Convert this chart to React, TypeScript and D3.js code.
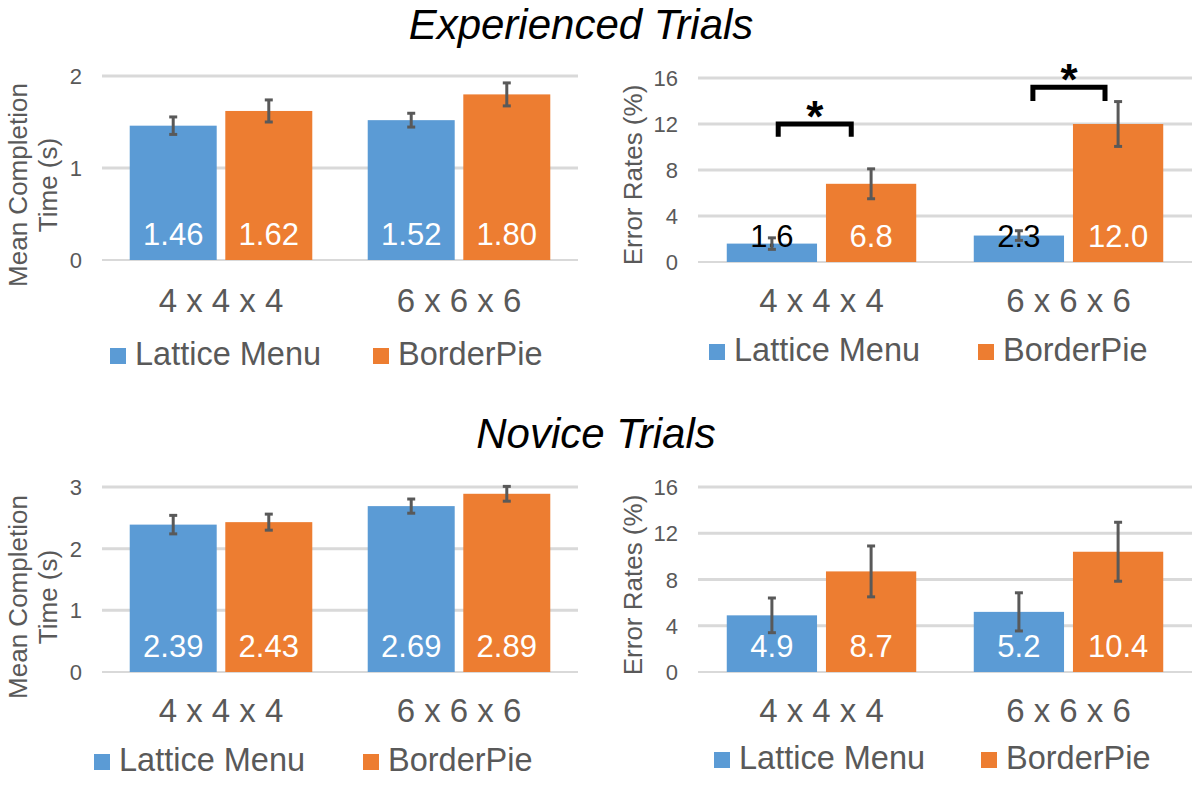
import React from "react";
import * as d3 from "d3";

const categories = ["4 x 4 x 4", "6 x 6 x 6"];
const seriesNames = ["Lattice Menu", "BorderPie"];
const seriesColors = ["#5B9BD5", "#ED7D31"];

// Experienced trials
const expTimeLattice = [1.46, 1.52];
const expTimeBorder = [1.62, 1.8];
const expTimeLatticeErr = [0.095, 0.075];
const expTimeBorderErr = [0.12, 0.125];
const expRateLattice = [1.6, 2.3];
const expRateBorder = [6.8, 12.0];
const expRateLatticeErr = [0.5, 0.42];
const expRateBorderErr = [1.3, 1.95];

// Novice trials
const novTimeLattice = [2.39, 2.69];
const novTimeBorder = [2.43, 2.89];
const novTimeLatticeErr = [0.15, 0.115];
const novTimeBorderErr = [0.13, 0.12];
const novRateLattice = [4.9, 5.2];
const novRateBorder = [8.7, 10.4];
const novRateLatticeErr = [1.5, 1.65];
const novRateBorderErr = [2.2, 2.55];

const expTimeTicks = [0, 1, 2];
const novTimeTicks = [0, 1, 2, 3];
const rateTicks = [0, 4, 8, 12, 16];

const labelDigits = [2, 1];

// significance brackets (experienced error rates)
const sigCategory = ["4 x 4 x 4", "6 x 6 x 6"];
const sigTop = [12.0, 15.2];
const sigLeg = [10.9, 14.0];

const FONT = "'Liberation Sans', Arial, sans-serif";
const TEXT = "#595959";

type PanelProps = {
  left: number;
  right: number;
  top: number;
  bottom: number;
  domain: [number, number];
  ticks: number[];
  values: number[][];
  errors: number[][];
  digits: number;
  yTitle: string[];
  yTitleX: number[];
  yTitleY: number;
  catY: number;
  legendY: number;
  legendX: number[];
  brackets?: boolean;
};

const Panel: React.FC<PanelProps> = (p) => {
  const x0 = d3.scaleBand<string>().domain(categories).range([p.left, p.right]);
  const x1 = d3
    .scaleBand<string>()
    .domain(seriesNames)
    .range([0, x0.bandwidth()])
    .paddingInner(0.09)
    .paddingOuter(0.29);
  const y = d3.scaleLinear().domain(p.domain).range([p.bottom, p.top]);
  const bw = x1.bandwidth();
  const barX = (s: string, c: string) => (x0(c) ?? 0) + (x1(s) ?? 0);

  return (
    <g fontFamily={FONT}>
      {p.ticks.map((t) => (
        <g key={t}>
          <line
            x1={p.left}
            x2={p.right}
            y1={y(t)}
            y2={y(t)}
            stroke="#D9D9D9"
            strokeWidth={t === 0 ? 2 : 3}
          />
          <text x={p.left - 20} y={y(t) + 8} textAnchor="end" fontSize={22} fill={TEXT}>
            {t}
          </text>
        </g>
      ))}
      {p.yTitle.map((line, i) => (
        <text
          key={line}
          transform={`translate(${p.yTitleX[i]},${p.yTitleY}) rotate(-90)`}
          textAnchor="middle"
          dominantBaseline="central"
          fontSize={26}
          fill={TEXT}
        >
          {line}
        </text>
      ))}
      {seriesNames.map((s, si) =>
        categories.map((c, ci) => {
          const v = p.values[si][ci];
          return (
            <rect
              key={s + c}
              x={barX(s, c)}
              y={y(v)}
              width={bw}
              height={y(0) - y(v)}
              fill={seriesColors[si]}
            />
          );
        })
      )}
      {seriesNames.map((s, si) =>
        categories.map((c, ci) => {
          const v = p.values[si][ci];
          const small = y(0) - y(v) < 30;
          return (
            <text
              key={"l" + s + c}
              x={barX(s, c) + bw / 2}
              y={y(0) - 15}
              textAnchor="middle"
              fontSize={31}
              fill={small ? "#000" : "#fff"}
            >
              {v.toFixed(p.digits)}
            </text>
          );
        })
      )}
      {seriesNames.map((s, si) =>
        categories.map((c, ci) => {
          const v = p.values[si][ci];
          const e = p.errors[si][ci];
          const cx = barX(s, c) + bw / 2;
          return (
            <g key={"e" + s + c} stroke="#595959" strokeWidth={3}>
              <line x1={cx} x2={cx} y1={y(v + e)} y2={y(v - e)} />
              <line x1={cx - 4} x2={cx + 4} y1={y(v + e)} y2={y(v + e)} />
              <line x1={cx - 4} x2={cx + 4} y1={y(v - e)} y2={y(v - e)} />
            </g>
          );
        })
      )}
      {p.brackets &&
        sigCategory.map((c, i) => {
          const lx = barX(seriesNames[0], c) + bw / 2 + bw * (i === 0 ? 0.07 : 0.155);
          const rx = barX(seriesNames[1], c) + bw / 2 - bw * (i === 0 ? 0.22 : 0.145);
          return (
            <g key={"b" + c}>
              <path
                d={`M${lx},${y(sigLeg[i])}V${y(sigTop[i])}H${rx}V${y(sigLeg[i])}`}
                fill="none"
                stroke="#000"
                strokeWidth={5}
              />
              <text
                x={(lx + rx) / 2}
                y={y(sigTop[i]) - 17 + 0.57 * 44}
                textAnchor="middle"
                fontSize={44}
                fontWeight="bold"
                fill="#000"
              >
                *
              </text>
            </g>
          );
        })}
      {categories.map((c) => (
        <text
          key={"c" + c}
          x={(x0(c) ?? 0) + x0.bandwidth() / 2}
          y={p.catY}
          textAnchor="middle"
          fontSize={33}
          fill={TEXT}
        >
          {c}
        </text>
      ))}
      {seriesNames.map((s, si) => (
        <g key={"lg" + s}>
          <rect x={p.legendX[si]} y={p.legendY - 17} width={16} height={16} fill={seriesColors[si]} />
          <text x={p.legendX[si] + 25} y={p.legendY} fontSize={32.5} fill={TEXT}>
            {s}
          </text>
        </g>
      ))}
    </g>
  );
};

const App: React.FC = () => {
  return (
    <div style={{ position: "absolute", left: 0, top: 0 }}>
      <svg width={1199} height={790} style={{ display: "block", background: "#fff" }}>
        <text x={581} y={39} textAnchor="middle" fontSize={42} fontStyle="italic" fontFamily={FONT} fill="#000">
          Experienced Trials
        </text>
        <text x={596} y={448} textAnchor="middle" fontSize={42} fontStyle="italic" fontFamily={FONT} fill="#000">
          Novice Trials
        </text>
        <Panel
          left={102}
          right={578}
          top={76}
          bottom={260}
          domain={[0, 2]}
          ticks={expTimeTicks}
          values={[expTimeLattice, expTimeBorder]}
          errors={[expTimeLatticeErr, expTimeBorderErr]}
          digits={labelDigits[0]}
          yTitle={["Mean Completion", "Time (s)"]}
          yTitleX={[18, 48]}
          yTitleY={185}
          catY={312}
          legendY={365}
          legendX={[110, 373]}
        />
        <Panel
          left={698}
          right={1192}
          top={78}
          bottom={262}
          domain={[0, 16]}
          ticks={rateTicks}
          values={[expRateLattice, expRateBorder]}
          errors={[expRateLatticeErr, expRateBorderErr]}
          digits={labelDigits[1]}
          yTitle={["Error Rates (%)"]}
          yTitleX={[633]}
          yTitleY={175}
          catY={312}
          legendY={361}
          legendX={[709, 978]}
          brackets
        />
        <Panel
          left={102}
          right={578}
          top={487}
          bottom={672}
          domain={[0, 3]}
          ticks={novTimeTicks}
          values={[novTimeLattice, novTimeBorder]}
          errors={[novTimeLatticeErr, novTimeBorderErr]}
          digits={labelDigits[0]}
          yTitle={["Mean Completion", "Time (s)"]}
          yTitleX={[18, 48]}
          yTitleY={597}
          catY={722}
          legendY={771}
          legendX={[94, 363]}
        />
        <Panel
          left={698}
          right={1192}
          top={487}
          bottom={672}
          domain={[0, 16]}
          ticks={rateTicks}
          values={[novRateLattice, novRateBorder]}
          errors={[novRateLatticeErr, novRateBorderErr]}
          digits={labelDigits[1]}
          yTitle={["Error Rates (%)"]}
          yTitleX={[633]}
          yTitleY={585}
          catY={722}
          legendY={769}
          legendX={[714, 981]}
        />
      </svg>
    </div>
  );
};

export default App;
